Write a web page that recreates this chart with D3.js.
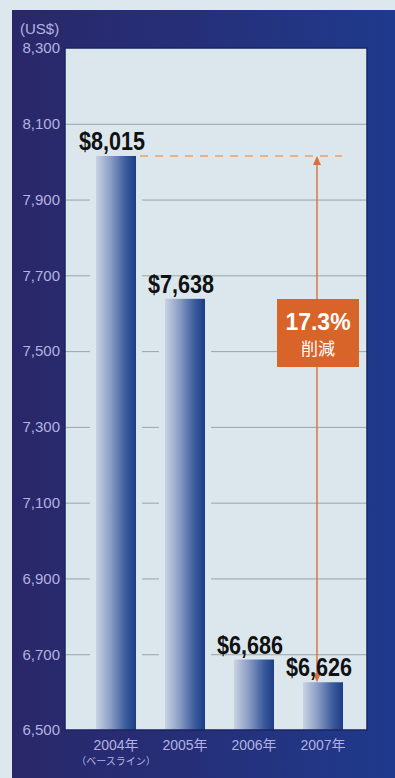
<!DOCTYPE html>
<html><head><meta charset="utf-8">
<script src="https://cdn.jsdelivr.net/npm/d3@7"></script>
<style>body{margin:0;background:#dde8ee;}svg{display:block;}</style>
</head><body>
<svg id="c" width="395" height="778"></svg>
<script>
const categories = ["2004年", "2005年", "2006年", "2007年"];
const subLabels = ["（ベースライン）", "", "", ""];
const values = [8015, 7638, 6686, 6626];
const valueLabels = ["$8,015", "$7,638", "$6,686", "$6,626"];
const yTicks = [6500, 6700, 6900, 7100, 7300, 7500, 7700, 7900, 8100, 8300];
const unitLabel = "(US$)";
const reductionPct = "17.3%";
const reductionText = "削減";

const svg = d3.select("#c");
const W = 395, H = 778;
const defs = svg.append("defs");
const fg = defs.append("linearGradient").attr("id","frame").attr("x1","0").attr("x2","1").attr("y1","0").attr("y2","0");
fg.append("stop").attr("offset","0").attr("stop-color","#2a2769");
fg.append("stop").attr("offset","0.5").attr("stop-color","#25307a");
fg.append("stop").attr("offset","1").attr("stop-color","#1f3a8c");
const bg = defs.append("linearGradient").attr("id","bar").attr("x1","0").attr("x2","1").attr("y1","0").attr("y2","0");
bg.append("stop").attr("offset","0").attr("stop-color","#c9d2e2");
bg.append("stop").attr("offset","0.35").attr("stop-color","#8d9fc6");
bg.append("stop").attr("offset","0.75").attr("stop-color","#3a5a9c");
bg.append("stop").attr("offset","1").attr("stop-color","#1c3d86");

svg.append("rect").attr("x",0).attr("y",0).attr("width",W).attr("height",H).attr("fill","#dde8ee");
svg.append("rect").attr("x",12).attr("y",10).attr("width",W-12).attr("height",H-10).attr("fill","url(#frame)");

const plot = {l:65, r:367, t:48, b:730};
const y = d3.scaleLinear().domain([6500, 8300]).range([plot.b, plot.t]);
const x = d3.scaleBand().domain(categories).range([81.5, 357.5]).paddingInner(0.42).paddingOuter(0.21);

svg.append("rect").attr("x",plot.l).attr("y",plot.t).attr("width",plot.r-plot.l).attr("height",plot.b-plot.t).attr("fill","#dbe7ec");

// gridlines
const yAxis = d3.axisLeft(y).tickValues(yTicks).tickSize(-(plot.r-plot.l)).tickFormat(d3.format(","));
const ga = svg.append("g").attr("transform",`translate(${plot.l},0)`).call(yAxis);
ga.select(".domain").remove();
ga.selectAll(".tick line").attr("stroke","#9aa4a8").attr("stroke-width",1).attr("opacity", d => (d===6500||d===8300)?0:1);
ga.selectAll(".tick text").attr("x",-5).attr("fill","#b3b2e0").attr("font-family","Liberation Sans, Arial, sans-serif").attr("font-size",15).attr("dy","0.32em");

svg.append("text").attr("x",20).attr("y",plot.t-14).attr("fill","#b3b2e0")
  .attr("font-family","Liberation Sans, Arial, sans-serif").attr("font-size",15).text(unitLabel);

// halo behind bars
svg.selectAll("rect.halo").data(values).join("rect").attr("class","halo")
  .attr("x",(d,i)=>x(categories[i])-6).attr("width",x.bandwidth()+12)
  .attr("y",d=>y(d)).attr("height",d=>plot.b-y(d)).attr("fill","#dbe7ec");

svg.selectAll("rect.bar").data(values).join("rect").attr("class","bar")
  .attr("x",(d,i)=>x(categories[i])).attr("width",x.bandwidth())
  .attr("y",d=>y(d)).attr("height",d=>plot.b-y(d)).attr("fill","url(#bar)");

// frame border of plot
svg.append("rect").attr("x",plot.l).attr("y",plot.t).attr("width",plot.r-plot.l).attr("height",plot.b-plot.t)
  .attr("fill","none").attr("stroke","#1b2560").attr("stroke-width",1.5);

// dashed line at baseline value
const x0 = x(categories[0]) + x.bandwidth() + 4;
const arrowX = x(categories[3]) + 14;
svg.append("line").attr("x1",x0).attr("x2",342).attr("y1",y(values[0])).attr("y2",y(values[0]))
  .attr("stroke","#f0a060").attr("stroke-width",1.6).attr("stroke-dasharray","8,7");

// arrow
const ac = "#d9703a";
svg.append("line").attr("x1",arrowX).attr("x2",arrowX).attr("y1",y(values[0])+6).attr("y2",y(values[3])-6)
  .attr("stroke",ac).attr("stroke-width",1.4);
svg.append("path").attr("d",`M${arrowX},${y(values[0])} l-4,9 l8,0 z`).attr("fill",ac);
svg.append("path").attr("d",`M${arrowX},${y(values[3])} l-4,-9 l8,0 z`).attr("fill",ac);

// value labels
svg.selectAll("text.val").data(values).join("text").attr("class","val")
  .attr("x",(d,i)=>x(categories[i])+x.bandwidth()/2-37).attr("y",d=>y(d)-6)
  .attr("textLength",66).attr("lengthAdjust","spacingAndGlyphs")
  .attr("fill","#111")
  .attr("font-family","Liberation Sans, Arial, sans-serif").attr("font-size",25).attr("font-weight","bold")
  .text((d,i)=>valueLabels[i]);

// box
const bx=277, by=299, bw=82, bh=68;
svg.append("rect").attr("x",bx).attr("y",by).attr("width",bw).attr("height",bh).attr("fill","#d8642a");
svg.append("text").attr("x",bx+bw/2).attr("y",by+31).attr("text-anchor","middle").attr("fill","#fff")
  .attr("font-family","Liberation Sans, Arial, sans-serif").attr("font-weight","bold").attr("font-size",23)
  .text(reductionPct);
svg.append("text").attr("x",bx+bw/2).attr("y",by+56).attr("text-anchor","middle").attr("fill","#fff")
  .attr("font-family","Noto Sans CJK JP, sans-serif").attr("font-size",17).text(reductionText);

// x labels
svg.selectAll("text.cat").data(categories).join("text").attr("class","cat")
  .attr("x",d=>x(d)+x.bandwidth()/2).attr("y",plot.b+20).attr("text-anchor","middle").attr("fill","#b3b2e0")
  .attr("font-family","Liberation Sans, Noto Sans CJK JP, sans-serif").attr("font-size",14).text(d=>d);
svg.selectAll("text.sub").data(subLabels).join("text").attr("class","sub")
  .attr("x",(d,i)=>x(categories[i])+x.bandwidth()/2).attr("y",plot.b+35).attr("text-anchor","middle").attr("fill","#b3b2e0")
  .attr("font-family","Noto Sans CJK JP, sans-serif").attr("font-size",10).text(d=>d);
</script>
</body></html>
